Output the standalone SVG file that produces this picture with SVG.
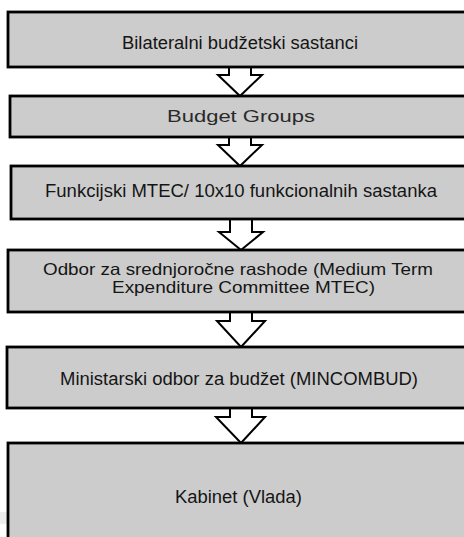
<svg xmlns="http://www.w3.org/2000/svg" width="464" height="537" viewBox="0 0 464 537">
<style>
.box{fill:#cccccc;stroke:#000;stroke-width:2.8}
.arr{fill:#fff;stroke:#000;stroke-width:2;stroke-linejoin:miter}
.t{font-family:"Liberation Sans",Arial,sans-serif;font-size:17.5px;fill:#151515;text-anchor:start}
.t4{font-family:"Liberation Sans",Arial,sans-serif;font-size:16.5px;fill:#151515;text-anchor:start}
.t2{font-family:"Liberation Sans",Arial,sans-serif;font-size:17px;fill:#2a2a2a;text-anchor:start}
</style>
<rect x="0" y="512" width="8" height="12" fill="#eeeeee"/>
<g id="connectors">
<path class="arr" d="M229,66 V75 H218 L240,96 L262,75 H251 V66"/>
<path class="arr" d="M229,136 V145 H218 L240,166 L262,145 H251 V136"/>
<path class="arr" d="M230,218 V232 H219 L241,250 L263,232 H252 V218"/>
<path class="arr" d="M230,311 V321 H217 L241,347 L265,321 H252 V311"/>
<path class="arr" d="M230,407 V417 H216 L241,443 L265,417 H252 V407"/>
</g>
<g id="n1">
<rect class="box" x="8" y="12" width="470" height="55"/>
<text class="t" x="122" y="49" textLength="236" lengthAdjust="spacingAndGlyphs">Bilateralni budžetski sastanci</text>
</g>
<g id="n2">
<rect class="box" x="10" y="96" width="470" height="41"/>
<text class="t2" x="167" y="122" textLength="148" lengthAdjust="spacingAndGlyphs">Budget Groups</text>
</g>
<g id="n3">
<rect class="box" x="11" y="166" width="470" height="53"/>
<text class="t" x="45" y="197" textLength="392" lengthAdjust="spacingAndGlyphs">Funkcijski MTEC/ 10x10 funkcionalnih sastanka</text>
</g>
<g id="n4">
<rect class="box" x="8" y="250" width="470" height="62"/>
<text class="t4" x="43" y="275" textLength="390" lengthAdjust="spacingAndGlyphs">Odbor za srednjoročne rashode (Medium Term</text>
<text class="t4" x="112" y="293" textLength="263" lengthAdjust="spacingAndGlyphs">Expenditure Committee MTEC)</text>
</g>
<g id="n5">
<rect class="box" x="7" y="347" width="470" height="61"/>
<text class="t" x="60" y="385" textLength="358" lengthAdjust="spacingAndGlyphs">Ministarski odbor za budžet (MINCOMBUD)</text>
</g>
<g id="n6">
<rect class="box" x="8" y="443" width="470" height="110"/>
<text class="t" x="175" y="503" textLength="127" lengthAdjust="spacingAndGlyphs">Kabinet (Vlada)</text>
</g>
</svg>
